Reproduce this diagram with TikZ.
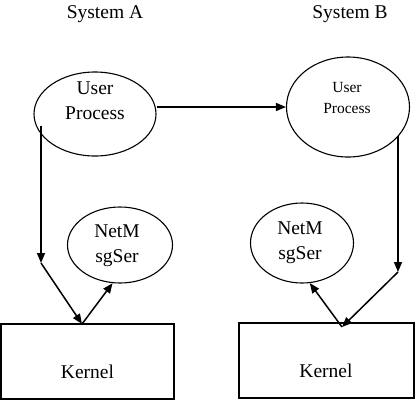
\documentclass[tikz,border=0pt]{standalone}
\usepackage{fontspec}
\setmainfont{Liberation Serif}
\usetikzlibrary{shapes.geometric,arrows.meta}
\begin{document}
\begin{tikzpicture}[x=1pt,y=-1pt,
  ell/.style={draw,ellipse,line width=1.1pt,inner sep=0pt},
  kbox/.style={draw,rectangle,line width=1.1pt,inner sep=0pt},
  txt/.style={align=center,inner sep=0pt,font=\fontsize{19.5}{25}\selectfont},
  smalltxt/.style={align=center,inner sep=0pt,font=\fontsize{15.5}{21}\selectfont},
  ttl/.style={anchor=base,inner sep=0pt,font=\fontsize{19.5}{23}\selectfont},
  arr/.style={line width=1.5pt,-{Triangle[length=10pt,width=8pt]}}]
\useasboundingbox (0,0) rectangle (417,408);
% titles
\node[ttl] (tA) at (105,18) {System A};
\node[ttl] (tB) at (350,18) {System B};
% user processes
\node[ell,minimum width=122pt,minimum height=84pt] (upA) at (95,114) {};
\node[txt] (upAt) at (95,100.5) {User\\Process};
\node[ell,minimum width=123pt,minimum height=100pt] (upB) at (348,107) {};
\node[smalltxt] (upBt) at (347,97.5) {User\\Process};
% netmsgser
\node[ell,minimum width=105pt,minimum height=76pt] (nA) at (120,245) {};
\node[txt] (nAt) at (117,246) {NetM\\sgSer};
\node[ell,minimum width=103pt,minimum height=80pt] (nB) at (302,243) {};
\node[txt] (nBt) at (300,243) {NetM\\sgSer};
% kernels
\node[kbox,minimum width=173pt,minimum height=75pt] (kA) at (87.5,361.5) {};
\node[ttl] (kAt) at (87.5,378) {Kernel};
\node[kbox,minimum width=175pt,minimum height=75pt] (kB) at (326.5,360.5) {};
\node[ttl] (kBt) at (326,377) {Kernel};
% connector points
\coordinate (a0) at (41,126);
\coordinate (a1) at (41,263);
\coordinate (a2) at (82,324);
\coordinate (b0) at (398,136);
\coordinate (b1) at (398,272);
\coordinate (b2) at (342,327);
% connectors
\draw[arr] (upB.west -| upA.east) -- (upB.west);
\draw[arr] (a0) -- (a1);
\draw[arr] (a1) -- (a2);
\draw[arr] (a2) -- (nA.259);
\draw[arr] (b0) -- (b1);
\draw[arr] (b1) -- (b2);
\draw[arr] (b2) -- (nB.281);
\end{tikzpicture}
\end{document}
